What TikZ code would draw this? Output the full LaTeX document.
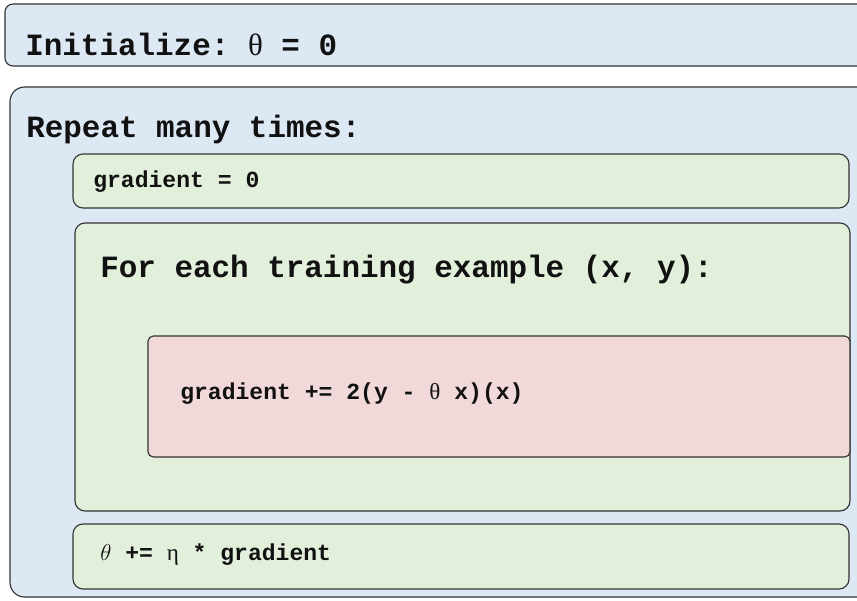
\documentclass[tikz,border=0pt]{standalone}
\usepackage{fontspec}
\setmonofont{Liberation Mono}
\newfontfamily\grk{Liberation Serif}
\definecolor{blueF}{HTML}{DDE8F5}
\definecolor{greenF}{HTML}{E2EFDA}
\definecolor{redF}{HTML}{F1D8D9}
\definecolor{lineC}{HTML}{333333}
\definecolor{inkC}{HTML}{111111}
\tikzset{
  blockbase/.style={draw=lineC, line width=0.85pt},
  outerblock/.style={blockbase, fill=blueF},
  innerblock/.style={blockbase, fill=greenF, rounded corners=7.5pt},
  bodyblock/.style={blockbase, fill=redF, rounded corners=4pt},
  bigcode/.style={anchor=base west, inner sep=0pt, text=inkC,
    font=\ttfamily\bfseries\fontsize{23.2pt}{26pt}\selectfont},
  smallcode/.style={anchor=base west, inner sep=0pt, text=inkC,
    font=\ttfamily\bfseries\fontsize{17.3pt}{20pt}\selectfont},
}
\begin{document}
\begin{tikzpicture}[x=0.75pt, y=-0.75pt]
  \useasboundingbox (0,0) rectangle (857,600);
  \clip (0,0) rectangle (857,600);
  \fill[white] (0,0) rectangle (857,600);

  % initialisation bar
  \path[outerblock, rounded corners=6pt] (5,4) rectangle (880,66);
  \node[bigcode] (init) at (25,55) {Initialize: {\mdseries\grk θ} = 0};

  % outer loop
  \path[outerblock, rounded corners=11pt] (10,87) rectangle (890,597);
  \node[bigcode] (repeat) at (26,137) {Repeat many times:};

  % reset of the gradient
  \path[innerblock] (73,154) rectangle (849,208);
  \node[smallcode] (reset) at (93,187) {gradient = 0};

  % inner loop over the examples
  \path[innerblock] (75,223) rectangle (850,511);
  \node[bigcode] (foreach) at (100,277) {For each training example (x, y):};

  % accumulation step
  \path[bodyblock] (148,336) rectangle (850,457);
  \node[smallcode] (accum) at (180,399) {gradient += 2(y - {\mdseries\grk θ} x)(x)};

  % parameter update
  \path[innerblock] (73,524) rectangle (849,589);
  \node[smallcode] (update) at (100,560) {$\theta$ += {\mdseries\grk η} * gradient};
\end{tikzpicture}
\end{document}
